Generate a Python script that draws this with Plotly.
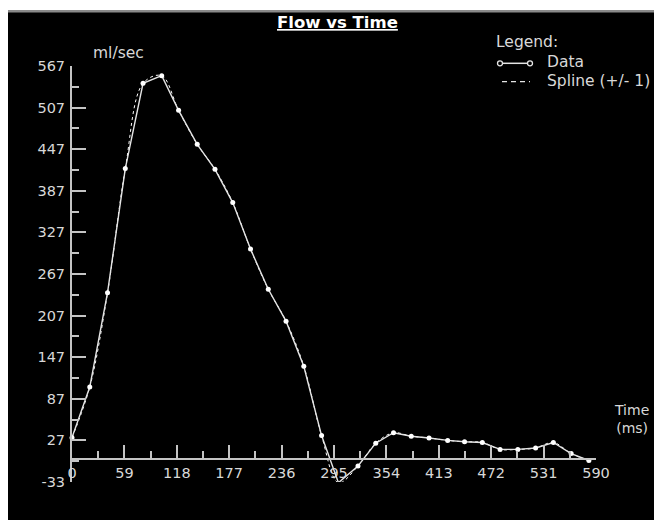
import plotly.graph_objects as go

# ---- data ----
time_ms = [0, 20, 40, 60, 80, 101, 120, 141, 161, 181, 201, 221, 241, 261, 281,
           300, 322, 342, 362, 382, 402, 423, 442, 462, 482, 502, 522, 542, 562, 582]
flow = [31, 104, 240, 419, 542, 553, 503, 454, 418, 370, 303, 245, 199, 134, 34,
        -34, -10, 23, 38, 33, 30.5, 27, 25, 24, 14, 14, 16, 24, 8, -2]

x_range = [0, 590]
y_range = [-33, 567]
x_ticks = [0, 59, 118, 177, 236, 295, 354, 413, 472, 531, 590]
y_ticks = [-33, 27, 87, 147, 207, 267, 327, 387, 447, 507, 567]

title_text = "Flow vs Time"
y_unit = "ml/sec"
x_unit = ["Time", "(ms)"]
legend_title = "Legend:"
legend_labels = ["Data", "Spline (+/- 1)"]

# ---- layout geometry ----
# The page body has an 8px margin, so the figure starts at (8, 8) of the window.
OFF = 8
W, H = 662 - OFF, 520 - OFF
L, R, T, B = 64, 66, 58, 38          # plot area: window x 72..596, y 66..482
PW, PH = W - L - R, H - T - B


def px_x(px):
    """window pixel x -> paper"""
    return (px - OFF - L) / PW


def px_y(py):
    """window pixel y -> paper"""
    return (H - B - (py - OFF)) / PH


FONT = "DejaVu Sans, Liberation Sans, Arial, sans-serif"
AXC = "#c4c4c4"
TXT = "#d8d8d8"
LINEC = "#e4e4e4"

fig = go.Figure()

fig.add_trace(go.Scatter(
    x=time_ms, y=flow, mode="lines",
    line=dict(shape="spline", dash="3px,3px", width=1, color="#ffffff"),
    cliponaxis=False, showlegend=False, hoverinfo="skip"))

fig.add_trace(go.Scatter(
    x=time_ms, y=flow, mode="lines+markers",
    line=dict(color=LINEC, width=1.4),
    marker=dict(size=5, color="#ffffff"),
    cliponaxis=False, showlegend=False))

shapes = [
    # white strip at the top of the canvas and gray rule under it
    dict(type="rect", xref="paper", yref="paper", layer="below",
         x0=px_x(0), x1=px_x(W + 20), y0=px_y(10), y1=px_y(0),
         fillcolor="#ffffff", line=dict(width=0)),
    dict(type="line", xref="paper", yref="paper", layer="below",
         x0=px_x(0), x1=px_x(W + 20), y0=px_y(11.3), y1=px_y(11.3),
         line=dict(color="#8a8a8a", width=2.5)),
    # legend symbols
    dict(type="line", xref="paper", yref="paper",
         x0=px_x(500), x1=px_x(530), y0=px_y(63.3), y1=px_y(63.3),
         line=dict(color=LINEC, width=1.5)),
    dict(type="line", xref="paper", yref="paper",
         x0=px_x(502), x1=px_x(530), y0=px_y(81.7), y1=px_y(81.7),
         line=dict(color=LINEC, width=1.2, dash="5px,4px")),
]
for cx in (500, 530):
    r = 2.5
    shapes.append(dict(type="circle", xref="paper", yref="paper",
                       x0=px_x(cx - r), x1=px_x(cx + r),
                       y0=px_y(63.3 + r), y1=px_y(63.3 - r),
                       fillcolor="#000000", line=dict(color=LINEC, width=1.3)))

annotations = [
    dict(text="<b><u>" + title_text + "</u></b>", x=px_x(337), y=px_y(22.5),
         font=dict(size=16.5, color="#ffffff", family=FONT)),
    dict(text=y_unit, x=px_x(91), y=px_y(53), xanchor="left",
         font=dict(size=15.5, color=TXT, family=FONT)),
    dict(text="<br>".join(x_unit), x=px_x(631), y=px_y(419),
         font=dict(size=14, color=TXT, family=FONT)),
    dict(text=legend_title, x=px_x(494), y=px_y(41.7), xanchor="left",
         font=dict(size=15.5, color=TXT, family=FONT)),
    dict(text=legend_labels[0], x=px_x(545), y=px_y(61.7), xanchor="left",
         font=dict(size=15.5, color=TXT, family=FONT)),
    dict(text=legend_labels[1], x=px_x(545), y=px_y(80.7), xanchor="left",
         font=dict(size=15.5, color=TXT, family=FONT)),
]
for a in annotations:
    a.update(xref="paper", yref="paper", showarrow=False)
    a.setdefault("xanchor", "center")
    a.setdefault("yanchor", "middle")

fig.update_layout(
    width=W, height=H,
    margin=dict(l=L, r=R, t=T, b=B),
    paper_bgcolor="#000000", plot_bgcolor="#000000",
    showlegend=False,
    shapes=shapes, annotations=annotations,
    xaxis=dict(
        range=x_range, anchor="free",
        position=(0 - y_range[0]) / (y_range[1] - y_range[0]),
        showline=True, linecolor=AXC, linewidth=2,
        ticks="inside", ticklen=13, tickwidth=2, tickcolor=AXC,
        tickmode="array", tickvals=x_ticks, ticktext=[str(v) for v in x_ticks],
        minor=dict(ticks="inside", ticklen=7, tickwidth=2, tickcolor=AXC,
                   tickmode="linear", tick0=0, dtick=29.5),
        showgrid=False, zeroline=False,
        tickfont=dict(size=14.5, color=TXT, family=FONT),
        ticklabelstandoff=0,
    ),
    yaxis=dict(
        range=y_range,
        showline=True, linecolor=AXC, linewidth=2,
        ticks="inside", ticklen=14, tickwidth=2, tickcolor=AXC,
        tickmode="array", tickvals=y_ticks, ticktext=[str(v) for v in y_ticks],
        minor=dict(ticks="inside", ticklen=7, tickwidth=2, tickcolor=AXC,
                   tickmode="linear", tick0=-33, dtick=30),
        showgrid=False, zeroline=False,
        tickfont=dict(size=14.5, color=TXT, family=FONT),
        ticklabelstandoff=2,
    ),
)

fig.write_html("out.html")
